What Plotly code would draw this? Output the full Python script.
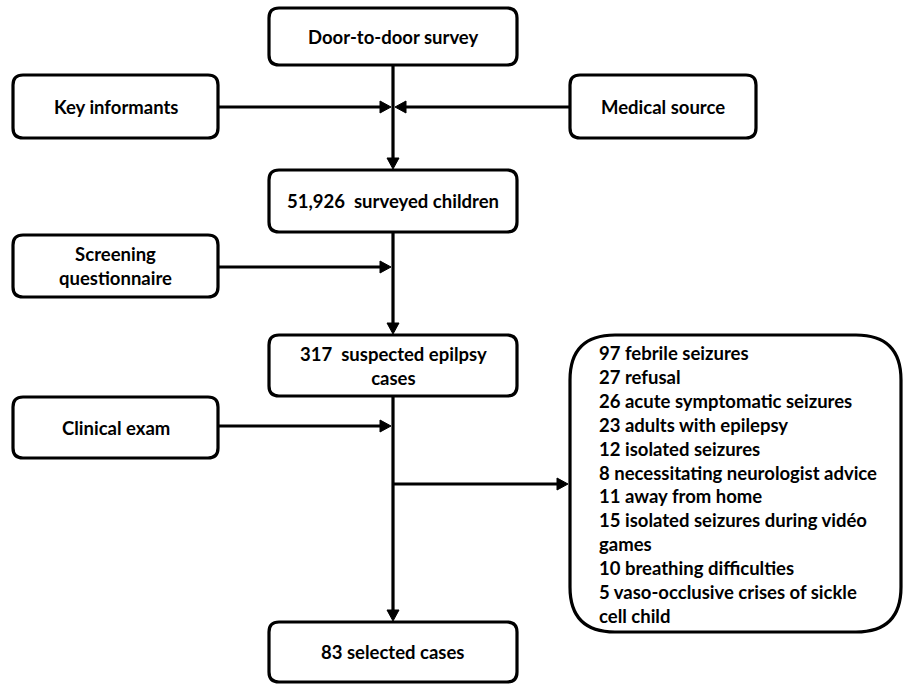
import plotly.graph_objects as go

# ---- content ----
box_labels = [
    "Door-to-door survey",
    "Key informants",
    "Medical source",
    "51,926  surveyed children",
    "Screening<br>questionnaire",
    "317  suspected epilpsy<br>cases",
    "Clinical exam",
    "83 selected cases",
]
exclusion_lines = [
    "97 febrile seizures",
    "27 refusal",
    "26 acute symptomatic seizures",
    "23 adults with epilepsy",
    "12 isolated seizures",
    "8 necessitating neurologist advice",
    "11 away from home",
    "15 isolated seizures during vidéo",
    "games",
    "10 breathing difficulties",
    "5 vaso-occlusive crises of sickle",
    "cell child",
]

# ---- layout (pixel coordinates, y downward) ----
W, H = 904, 684
box_geom = [  # x0, y0, x1, y1
    (269, 8, 517, 65),
    (13, 75, 218, 138),
    (570, 75, 756, 138),
    (269, 170, 517, 232),
    (13, 235, 218, 297),
    (269, 335, 517, 396),
    (13, 397, 218, 458),
    (269, 622, 517, 682),
]
excl_geom = (570, 335, 901, 632)
excl_text_x = 597
excl_text_y0 = 353
excl_dy = 23.9
CX = 393
LW = 3.2
FONT = "Lato, sans-serif"
FS_BOX = 18.5
FS_EX = 18.5


def rrect(x0, y0, x1, y1, r):
    return (f"M{x0+r},{y0} L{x1-r},{y0} Q{x1},{y0} {x1},{y0+r} "
            f"L{x1},{y1-r} Q{x1},{y1} {x1-r},{y1} L{x0+r},{y1} "
            f"Q{x0},{y1} {x0},{y1-r} L{x0},{y0+r} Q{x0},{y0} {x0+r},{y0} Z")


shapes = []
annotations = []

for (x0, y0, x1, y1), lab in zip(box_geom, box_labels):
    shapes.append(dict(type="path", path=rrect(x0, y0, x1, y1, 10),
                       line=dict(color="black", width=LW), fillcolor="white",
                       xref="x", yref="y", layer="above"))
    annotations.append(dict(x=(x0 + x1) / 2, y=(y0 + y1) / 2, text=f"<b>{lab}</b>",
                            showarrow=False, xref="x", yref="y",
                            font=dict(family=FONT, size=FS_BOX, color="black"),
                            xanchor="center", yanchor="middle", align="center"))

ex0, ey0, ex1, ey1 = excl_geom
shapes.append(dict(type="path", path=rrect(ex0, ey0, ex1, ey1, 45),
                   line=dict(color="black", width=LW), fillcolor="white",
                   xref="x", yref="y", layer="above"))
for i, ln in enumerate(exclusion_lines):
    annotations.append(dict(x=excl_text_x, y=excl_text_y0 + i * excl_dy,
                            text=f"<b>{ln}</b>", showarrow=False, xref="x", yref="y",
                            font=dict(family=FONT, size=FS_EX, color="black"),
                            xanchor="left", yanchor="middle", align="left"))


def line(x0, y0, x1, y1):
    shapes.append(dict(type="line", x0=x0, y0=y0, x1=x1, y1=y1,
                       line=dict(color="black", width=LW), xref="x", yref="y"))


def head(tx, ty, d, L=11, Wd=6):
    if d == "down":
        p = f"M{tx},{ty} L{tx-Wd},{ty-L} L{tx+Wd},{ty-L} Z"
    elif d == "right":
        p = f"M{tx},{ty} L{tx-L},{ty-Wd} L{tx-L},{ty+Wd} Z"
    else:
        p = f"M{tx},{ty} L{tx+L},{ty-Wd} L{tx+L},{ty+Wd} Z"
    shapes.append(dict(type="path", path=p, fillcolor="black",
                       line=dict(color="black", width=1), xref="x", yref="y"))


# vertical spine segments
line(CX, 65, CX, 160); head(CX, 169, "down")
line(CX, 232, CX, 325); head(CX, 334, "down")
line(CX, 396, CX, 612); head(CX, 621, "down")
# side arrows
line(218, 107, 382, 107); head(391, 107, "right")
line(570, 107, 404, 107); head(395, 107, "left")
line(218, 267, 382, 267); head(391, 267, "right")
line(218, 426, 382, 426); head(391, 426, "right")
line(CX, 484, 558, 484); head(568, 484, "right")

fig = go.Figure()
fig.update_layout(
    width=W, height=H, margin=dict(l=0, r=0, t=0, b=0),
    paper_bgcolor="white", plot_bgcolor="white",
    xaxis=dict(range=[0, W], visible=False, fixedrange=True),
    yaxis=dict(range=[H, 0], visible=False, fixedrange=True),
    shapes=shapes, annotations=annotations, showlegend=False,
)
fig.write_html("out.html", config={"displayModeBar": False},
               post_script="document.body.style.margin='0';document.body.style.overflow='hidden';")
